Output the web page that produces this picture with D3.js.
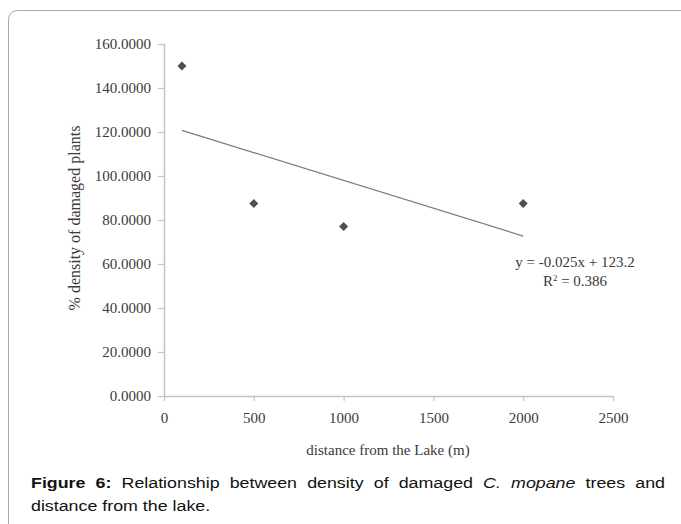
<!DOCTYPE html>
<html>
<head>
<meta charset="utf-8">
<script src="https://cdn.jsdelivr.net/npm/d3@7"></script>
<style>
  html, body { margin: 0; padding: 0; background: #fff; }
  svg { display: block; }
</style>
</head>
<body>
<svg id="chart" width="681" height="524"></svg>
<script>
// ---- data ----
const distances = [100, 500, 1000, 2000];
const density = [150, 87.5, 77, 87.5];
const xTicks = [0, 500, 1000, 1500, 2000, 2500];
const yTicks = [0, 20, 40, 60, 80, 100, 120, 140, 160];
const xTitle = "distance from the Lake (m)";
const yTitle = "% density of damaged plants";
const equationText = "y = -0.025x + 123.2";
const r2Value = "0.386";

const svg = d3.select("#chart");

// frame
svg.append("rect")
  .attr("x", 8.5).attr("y", 10.5)
  .attr("width", 720).attr("height", 600)
  .attr("rx", 9).attr("ry", 9)
  .attr("fill", "none").attr("stroke", "#a8a8a8").attr("stroke-width", 1);

const x = d3.scaleLinear().domain([0, 2500]).range([164, 613]);
const y = d3.scaleLinear().domain([0, 160]).range([396, 44]);

const serif = "'Liberation Serif', 'Times New Roman', serif";

// y axis
const yAxis = svg.append("g")
  .attr("transform", `translate(${x(0)},0)`)
  .call(d3.axisLeft(y).tickValues(yTicks).tickSize(6).tickPadding(7)
    .tickFormat(d => d3.format(".4f")(d)));
// x axis
const xAxis = svg.append("g")
  .attr("transform", `translate(0,${y(0)})`)
  .call(d3.axisBottom(x).tickValues(xTicks).tickSize(5).tickPadding(11)
    .tickFormat(d3.format("d")));

[yAxis, xAxis].forEach(g => {
  g.select(".domain").attr("stroke", "#c4c4c4").attr("stroke-width", 1.5);
  g.selectAll(".tick line").attr("stroke", "#c4c4c4").attr("stroke-width", 1.2);
  g.selectAll(".tick text").attr("fill", "#3a3a3a")
    .style("font-family", serif).style("font-size", "15px");
});
yAxis.select(".domain").attr("d", `M0.5,${y(160)}V${y(0)}`);
xAxis.select(".domain").attr("d", `M${x(0)},0.5H${x(2500)}`);

// axis titles
svg.append("text")
  .attr("x", 388).attr("y", 455)
  .attr("text-anchor", "middle")
  .attr("fill", "#3a3a3a")
  .style("font-family", serif).style("font-size", "15px")
  .text(xTitle);

svg.append("text")
  .attr("transform", `translate(80,218) rotate(-90)`)
  .attr("text-anchor", "middle")
  .attr("fill", "#3a3a3a")
  .style("font-family", serif).style("font-size", "16px")
  .text(yTitle);

// least-squares trend line from the data
const n = distances.length;
const mx = d3.mean(distances), my = d3.mean(density);
let sxy = 0, sxx = 0;
for (let i = 0; i < n; i++) {
  sxy += (distances[i] - mx) * (density[i] - my);
  sxx += (distances[i] - mx) ** 2;
}
const slope = sxy / sxx, intercept = my - slope * mx;
const xMin = d3.min(distances), xMax = d3.max(distances);
svg.append("line")
  .attr("x1", x(xMin)).attr("y1", y(intercept + slope * xMin))
  .attr("x2", x(xMax)).attr("y2", y(intercept + slope * xMax))
  .attr("stroke", "#7a7a7a").attr("stroke-width", 1.2);

// diamond markers
const diamond = d3.symbol().type(d3.symbolDiamond2).size(52);
svg.append("g").selectAll("path")
  .data(distances.map((d, i) => [d, density[i]]))
  .join("path")
  .attr("d", diamond)
  .attr("transform", d => `translate(${x(d[0])},${y(d[1])})`)
  .attr("fill", "#4f4f4f");

// equation labels
svg.append("text")
  .attr("x", 575).attr("y", 267)
  .attr("text-anchor", "middle")
  .attr("fill", "#3a3a3a")
  .style("font-family", serif).style("font-size", "15px")
  .text(equationText);
const r2 = svg.append("text")
  .attr("x", 575).attr("y", 286)
  .attr("text-anchor", "middle")
  .attr("fill", "#3a3a3a")
  .style("font-family", serif).style("font-size", "15px");
r2.append("tspan").text("R");
r2.append("tspan").attr("dy", -5).style("font-size", "9px").text("2");
r2.append("tspan").attr("dy", 5).text(" = " + r2Value);

// caption (slightly widened glyphs as in the reference)
const sans = "'Liberation Sans', Arial, sans-serif";
const capX = 31, capRight = 665, capScale = 1.15;
const capG = svg.append("g").attr("transform", `translate(${capX},0) scale(${capScale},1)`);
const cap1 = capG.append("text")
  .attr("x", 0).attr("y", 488)
  .attr("fill", "#111")
  .style("font-family", sans).style("font-size", "15.5px");
cap1.append("tspan").style("font-weight", "bold").text("Figure 6:");
cap1.append("tspan").text(" Relationship between density of damaged ");
cap1.append("tspan").style("font-style", "italic").text("C. mopane");
cap1.append("tspan").text(" trees and");
const natural = cap1.node().getComputedTextLength();
const gaps = 10;
const extra = ((capRight - capX) / capScale - natural) / gaps;
if (extra > 0) cap1.style("word-spacing", extra + "px");

capG.append("text")
  .attr("x", 0).attr("y", 511)
  .attr("fill", "#111")
  .style("font-family", sans).style("font-size", "15.5px")
  .text("distance from the lake.");
</script>
</body>
</html>
